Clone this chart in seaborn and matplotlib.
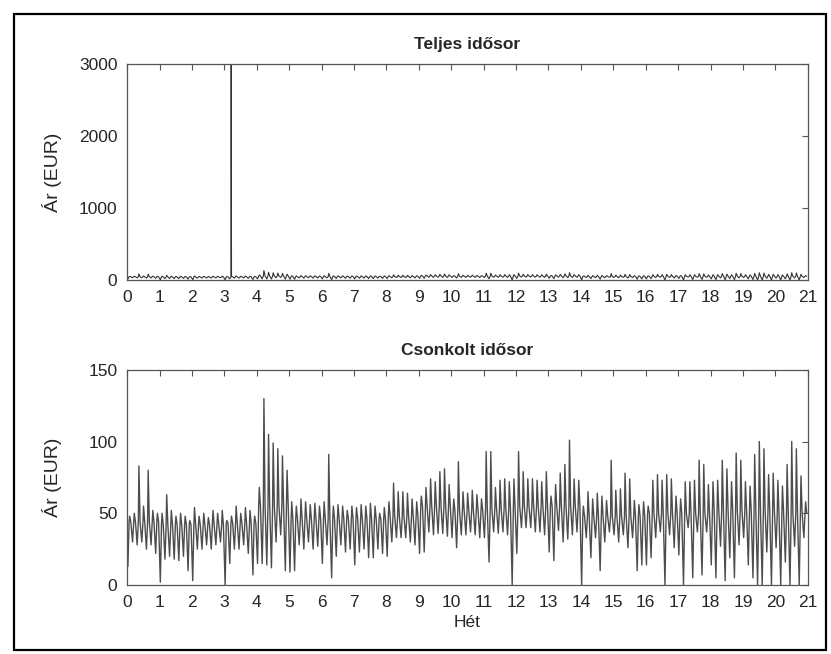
import numpy as np
import pandas as pd
import matplotlib
matplotlib.use("Agg")
import matplotlib.pyplot as plt
import seaborn as sns
from matplotlib.patches import Rectangle

hi = [[48, 50, 83, 55, 80, 52, 50],
      [50, 63, 52, 48, 50, 48, 45],
      [54, 48, 50, 47, 52, 50, 52],
      [45, 48, 55, 50, 54, 52, 48],
      [68, 130, 105, 99, 95, 90, 80],
      [58, 55, 60, 58, 56, 57, 55],
      [58, 91, 55, 56, 55, 52, 55],
      [54, 56, 55, 57, 55, 50, 54],
      [58, 71, 65, 65, 64, 60, 58],
      [62, 68, 74, 72, 79, 81, 70],
      [60, 86, 65, 64, 66, 63, 60],
      [93, 93, 68, 73, 74, 72, 74],
      [93, 79, 74, 74, 73, 72, 79],
      [62, 70, 78, 84, 101, 74, 73],
      [55, 65, 60, 64, 62, 59, 87],
      [66, 67, 78, 74, 59, 56, 58],
      [55, 73, 77, 73, 77, 74, 62],
      [60, 72, 72, 73, 87, 84, 70],
      [72, 73, 87, 81, 72, 92, 87],
      [72, 69, 91, 100, 95, 77, 78],
      [73, 69, 84, 100, 95, 76, 58]]
lo = [[13, 30, 28, 30, 25, 28, 22],
      [2, 18, 20, 18, 17, 20, 10],
      [3, 25, 25, 28, 25, 28, 30],
      [0, 15, 25, 25, 28, 22, 7],
      [15, 15, 14, 12, 30, 35, 10],
      [9, 10, 28, 25, 30, 25, 27],
      [15, 28, 5, 20, 28, 23, 25],
      [14, 23, 25, 19, 19, 25, 22],
      [20, 30, 33, 33, 33, 30, 28],
      [22, 23, 37, 35, 36, 36, 34],
      [33, 26, 35, 35, 37, 35, 33],
      [33, 16, 37, 36, 37, 35, 0],
      [22, 40, 40, 40, 37, 37, 35],
      [23, 17, 38, 30, 32, 35, 37],
      [0, 33, 19, 33, 10, 30, 37],
      [35, 30, 35, 26, 33, 10, 14],
      [14, 19, 33, 37, 0, 35, 26],
      [21, 0, 40, 5, 37, 7, 37],
      [14, 5, 27, 3, 19, 5, 28],
      [33, 14, 5, 0, 0, 23, 0],
      [26, 0, 16, 0, 27, 0, 33]]
# typical (shoulder-hour) level for each week
mid = [44, 42, 42, 43, 55, 46, 46, 46, 48, 55, 52, 53, 55, 55, 48, 48, 50, 50, 52, 52, 50]

# outlier removed from the truncated series (day index, EUR)
spike_day = [22.47, 22.50]
spike_val = [2990, 1550]

hours = [4, 10, 13, 19]  # hour of trough, shoulder, peak, shoulder

rows = []
for w in range(21):
    for d in range(7):
        day = w * 7 + d
        vals = [lo[w][d], mid[w], hi[w][d], mid[w]]
        for h, v in zip(hours, vals):
            rows.append((day + h / 24, v))
trunc = pd.DataFrame(rows, columns=["day", "price"])
full = pd.concat([trunc, pd.DataFrame({"day": spike_day, "price": spike_val})])
full = full.sort_values("day").reset_index(drop=True)
trunc["week"] = trunc["day"] / 7
full["week"] = full["day"] / 7

sns.set_style("white")
plt.rcParams["font.family"] = ["Liberation Sans", "DejaVu Sans"]

fig = plt.figure(figsize=(8.31, 6.54), dpi=100)
ax1 = fig.add_axes([0.153, 0.572, 0.819, 0.330])
ax2 = fig.add_axes([0.153, 0.1055, 0.819, 0.329])

sns.lineplot(data=full, x="week", y="price", ax=ax1, estimator=None, sort=False,
             color="#333333", linewidth=0.8)
sns.lineplot(data=trunc, x="week", y="price", ax=ax2, estimator=None, sort=False,
             color="#4d4d4d", linewidth=1.0)

ax1.set_ylim(0, 3000)
ax1.set_yticks([0, 1000, 2000, 3000])
ax2.set_ylim(0, 150)
ax2.set_yticks([0, 50, 100, 150])

for ax, title in [(ax1, "Teljes idősor"), (ax2, "Csonkolt idősor")]:
    ax.set_xlim(0, 21)
    ax.set_xticks(range(22))
    ax.tick_params(direction="in", top=True, right=True, length=4, width=0.8,
                   labelsize=12.5, pad=7, color="#555555")
    for s in ax.spines.values():
        s.set_color("#555555")
        s.set_linewidth(0.9)
    ax.set_title(title, fontsize=12.5, fontweight="bold", pad=11)
    ax.set_ylabel("Ár (EUR)", fontsize=14)
    ax.yaxis.set_label_coords(-0.095, 0.5)
    ax.set_xlabel("")

ax2.set_xlabel("Hét", fontsize=12.5, labelpad=4)

fig.patches.append(Rectangle((14 / 831, 4 / 654), 812 / 831, 636 / 654,
                             transform=fig.transFigure, fill=False,
                             edgecolor="black", linewidth=1.6))

fig.savefig("out.png", dpi=100)
